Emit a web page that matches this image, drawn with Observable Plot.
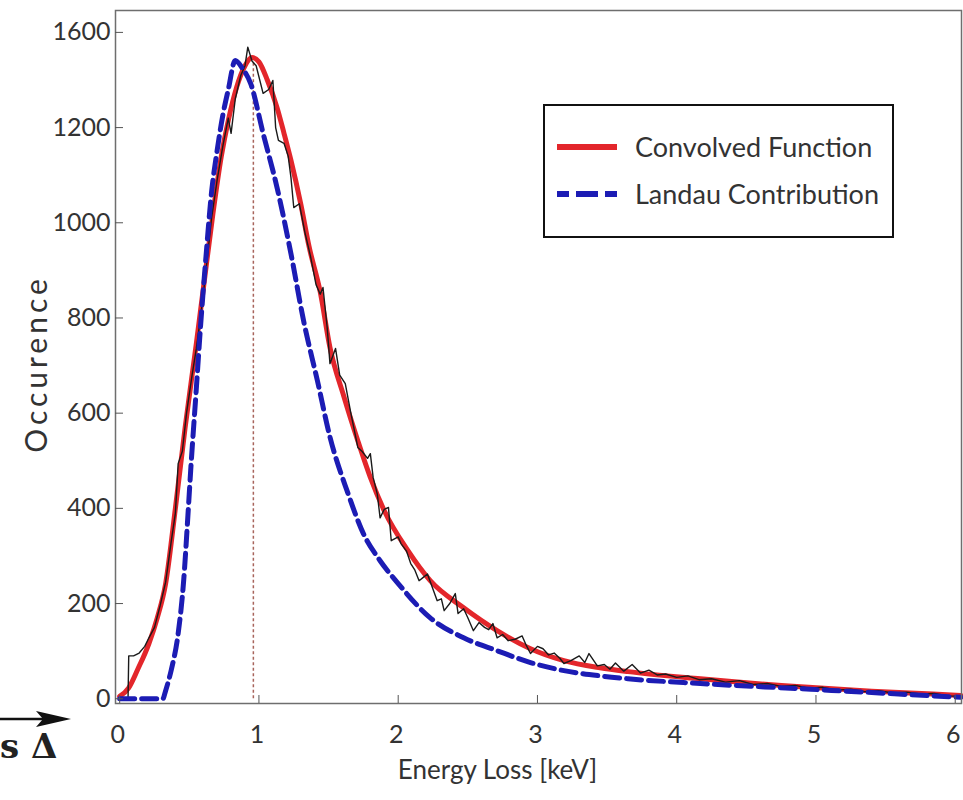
<!DOCTYPE html>
<html><head><meta charset="utf-8">
<script src="https://cdn.jsdelivr.net/npm/d3@7"></script>
<script src="https://cdn.jsdelivr.net/npm/@observablehq/plot@0.6"></script>
<style>
body{margin:0;background:#fff;}
#wrap{position:relative;width:963px;height:800px;overflow:hidden;font-family:Lato,"DejaVu Sans",sans-serif;color:#333;}
#legend{position:absolute;left:543px;top:104px;width:347px;height:130px;border:2.5px solid #111;background:#fff;}
#legend .row{position:absolute;left:10px;display:flex;align-items:center;font-size:27px;color:#333;}
#legend .row svg{margin-right:16px;}
#ylabel{position:absolute;left:35px;top:364px;transform:translate(-50%,-50%) rotate(-90deg);font-size:30px;letter-spacing:4px;color:#333;white-space:nowrap;}
#arrowtxt{position:absolute;left:0px;top:726px;font-family:"DejaVu Serif",serif;font-weight:bold;font-size:34px;color:#222;white-space:nowrap;}
#arrow{position:absolute;left:0;top:708px;}
</style></head><body><div id="wrap"></div>
<script>
// ---- data ----
const xTicks = [0, 1, 2, 3, 4, 5, 6];
const yTicks = [0, 200, 400, 600, 800, 1000, 1200, 1400];
const yTickLabels = ["0", "200", "400", "600", "800", "1000", "1200", "1600"];
const seriesNames = ["Convolved Function", "Landau Contribution"];
const xLabel = "Energy Loss [keV]";
const yLabel = "Occurence";

const convolvedE = [0, 0.065, 0.13, 0.21, 0.27, 0.33, 0.40, 0.47, 0.55, 0.60, 0.67, 0.73, 0.78, 0.84, 0.90, 0.95, 1.00, 1.06, 1.13, 1.18, 1.23, 1.30, 1.36, 1.44, 1.51, 1.61, 1.71, 1.80, 1.90, 2.07, 2.23, 2.47, 2.71, 2.95, 3.19, 3.45, 3.65, 4.17, 4.89, 5.40, 5.84, 6.04];
const convolvedN = [5, 23, 62, 116, 170, 242, 400, 570, 745, 860, 1020, 1140, 1215, 1285, 1330, 1347, 1338, 1300, 1242, 1188, 1131, 1040, 950, 855, 738, 635, 542, 465, 395, 311, 248, 191, 143, 105, 80, 65, 57, 42, 25, 16, 10, 7];

const landauE = [0, 0.31, 0.33, 0.37, 0.42, 0.46, 0.49, 0.51, 0.55, 0.58, 0.62, 0.66, 0.70, 0.74, 0.78, 0.83, 0.88, 0.94, 1.03, 1.13, 1.23, 1.32, 1.42, 1.51, 1.64, 1.75, 1.87, 2.00, 2.23, 2.47, 2.71, 2.95, 3.19, 3.45, 3.65, 4.17, 4.89, 5.40, 5.84, 6.04];
const landauN = [0, 0, 17, 60, 137, 250, 385, 480, 650, 780, 930, 1065, 1152, 1225, 1280, 1341, 1325, 1293, 1188, 1074, 935, 795, 668, 550, 431, 347, 290, 242, 170, 128, 101, 76, 59, 48, 42, 32, 21, 13, 6, 3];

const dataE = [0.00, 0.06, 0.065, 0.10, 0.14, 0.18, 0.21, 0.25, 0.29, 0.33, 0.37, 0.40, 0.42, 0.45, 0.48, 0.52, 0.55, 0.58, 0.62, 0.66, 0.70, 0.74, 0.78, 0.80, 0.83, 0.87, 0.90, 0.92, 0.95, 0.98, 1.03, 1.07, 1.10, 1.12, 1.14, 1.18, 1.21, 1.23, 1.25, 1.29, 1.33, 1.37, 1.41, 1.44, 1.46, 1.49, 1.51, 1.55, 1.58, 1.62, 1.66, 1.71, 1.74, 1.78, 1.80, 1.82, 1.85, 1.87, 1.90, 1.93, 1.95, 2.00, 2.02, 2.06, 2.09, 2.12, 2.15, 2.18, 2.21, 2.25, 2.28, 2.31, 2.33, 2.37, 2.41, 2.43, 2.47, 2.50, 2.54, 2.58, 2.62, 2.65, 2.68, 2.71, 2.75, 2.79, 2.84, 2.89, 2.92, 2.95, 3.00, 3.04, 3.08, 3.12, 3.16, 3.19, 3.24, 3.30, 3.34, 3.37, 3.43, 3.48, 3.52, 3.56, 3.62, 3.68, 3.74, 3.80, 3.86, 3.92, 4.00, 4.08, 4.16, 4.25, 4.35, 4.45, 4.55, 4.65, 4.75, 4.85, 4.95, 5.05, 5.15, 5.25, 5.35, 5.45, 5.55, 5.65, 5.75, 5.85, 5.95, 6.04];
const dataN = [0, 0, 90, 90, 96, 110, 128, 150, 195, 245, 330, 390, 494, 520, 600, 680, 735, 800, 900, 1010, 1090, 1160, 1220, 1188, 1260, 1310, 1330, 1369, 1340, 1330, 1272, 1280, 1299, 1200, 1173, 1167, 1140, 1095, 1032, 1040, 980, 930, 870, 850, 864, 780, 704, 736, 680, 662, 600, 528, 520, 505, 515, 465, 430, 380, 398, 402, 332, 340, 326, 310, 284, 270, 248, 255, 262, 230, 206, 210, 185, 200, 221, 179, 189, 170, 143, 160, 150, 145, 158, 128, 135, 122, 125, 132, 112, 95, 110, 105, 92, 96, 85, 74, 80, 90, 76, 95, 69, 72, 62, 75, 58, 72, 54, 60, 50, 52, 45, 48, 40, 42, 35, 38, 30, 32, 26, 28, 22, 24, 18, 20, 15, 17, 12, 14, 10, 11, 6, 5];

const peakE = [0.96];
const peakN = [1340];

// ---- tables ----
const conv = convolvedE.map((e, i) => ({e, n: convolvedN[i]}));
const landau = landauE.map((e, i) => ({e, n: landauN[i]}));
const hist = dataE.map((e, i) => ({e, n: dataN[i]}));
const peak = peakE.map((e, i) => ({e, n: peakN[i]}));

const chart = Plot.plot({
  width: 963, height: 800,
  marginLeft: 115, marginRight: 2, marginTop: 10, marginBottom: 97,
  x: {domain: [-0.03, 6.045]},
  y: {domain: [-10, 1446]},
  style: {fontFamily: "Lato, 'DejaVu Sans', sans-serif", color: "#333", background: "#fff"},
  marks: [
    Plot.ruleX(peak, {x: "e", y1: 0, y2: "n", stroke: "#a8645c", strokeWidth: 1.5, strokeDasharray: "3,2.5"}),
    Plot.line(conv, {x: "e", y: "n", stroke: "#e3262b", strokeWidth: 5, curve: "monotone-x"}),
    Plot.line(hist, {x: "e", y: "n", stroke: "#1a1a1a", strokeWidth: 1.4}),
    Plot.line(landau, {x: "e", y: "n", stroke: "#1c1cb4", strokeWidth: 5, strokeDasharray: "15,7", curve: "monotone-x"}),
    Plot.frame({stroke: "#6e6e6e", strokeWidth: 1.5}),
    Plot.axisX(xTicks, {tickSize: -8, tickFormat: () => "", stroke: "#555", label: null}),
    Plot.axisX(xTicks, {tickSize: 0, tickPadding: 22, fontSize: 25, label: null, dx: -2, tickFormat: d => String(d)}),
    Plot.axisY(yTicks, {tickSize: -8, tickFormat: () => "", stroke: "#555", label: null}),
    Plot.axisY(yTicks, {tickSize: 0, tickPadding: 5, fontSize: 25, label: null,
      tickFormat: d => yTickLabels[yTicks.indexOf(d)]}),
    Plot.text([xLabel], {frameAnchor: "bottom", dy: 75, dx: -41, fontSize: 26, fill: "#333"})
  ]
});

const wrap = document.getElementById("wrap");
wrap.appendChild(chart);

// y axis title
const yl = document.createElement("div");
yl.id = "ylabel";
yl.textContent = yLabel;
wrap.appendChild(yl);

// legend overlay
const legend = document.createElement("div");
legend.id = "legend";
const sw = [
  `<svg width="64" height="10"><line x1="2" y1="5" x2="62" y2="5" stroke="#e3262b" stroke-width="6"/></svg>`,
  `<svg width="64" height="10"><line x1="2" y1="5" x2="62" y2="5" stroke="#1c1cb4" stroke-width="6" stroke-dasharray="12,7,22,7,13"/></svg>`
];
seriesNames.forEach((name, i) => {
  const row = document.createElement("div");
  row.className = "row";
  row.style.top = (i === 0 ? 24 : 71) + "px";
  row.innerHTML = sw[i] + `<span>${name}</span>`;
  legend.appendChild(row);
});
wrap.appendChild(legend);

// cropped remnant at bottom-left (arrow and "s Δ")
const arrow = document.createElement("div");
arrow.id = "arrow";
arrow.innerHTML = `<svg width="75" height="22"><line x1="0" y1="11" x2="45" y2="11" stroke="#111" stroke-width="2.5"/><path d="M36,3 L71,11 L36,19 L43,11 Z" fill="#111"/></svg>`;
wrap.appendChild(arrow);
const at = document.createElement("div");
at.id = "arrowtxt";
at.textContent = "s Δ";
wrap.appendChild(at);
</script>
</body></html>
